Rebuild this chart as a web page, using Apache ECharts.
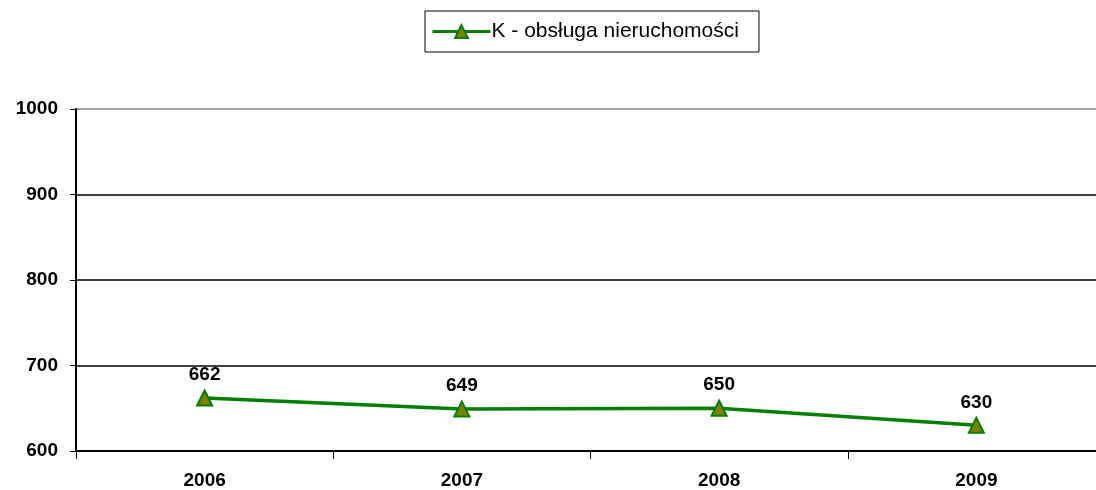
<!DOCTYPE html>
<html>
<head>
<meta charset="utf-8">
<script src="https://cdn.jsdelivr.net/npm/echarts@6/dist/echarts.min.js"></script>
<style>
  html, body { margin: 0; padding: 0; background: #fff; overflow: hidden; }
  /* wykres wychodzi poza prawą krawędź, jak w oryginale */
  #chart { width: 1110px; height: 490px; }
</style>
</head>
<body>
<div id="chart"></div>
<script>
// dane
const years = ['2006', '2007', '2008', '2009']
const values = [662, 649, 650, 630]
const seriesName = 'K - obsługa nieruchomości'

const chart = echarts.init(document.getElementById('chart'))

chart.setOption({
  animation: false,
  textStyle: { fontFamily: 'Liberation Sans, Arial, sans-serif' },
  legend: {
    top: 11,
    left: 425,
    data: [seriesName],
    backgroundColor: '#fff',
    borderColor: '#000',
    borderWidth: 1,
    borderRadius: 0,
    padding: [10, 20, 10, 6],
    itemWidth: 58,
    itemHeight: 16,
    itemGap: 0,
    lineStyle: { width: 3 },
    textStyle: { fontSize: 21, color: '#000', padding: [0, 0, 0, -4] },
  },
  grid: {
    left: 76,
    right: 5,
    top: 109,
    bottom: 38,
  },
  xAxis: {
    type: 'category',
    data: years,
    boundaryGap: true,
    axisLine: { lineStyle: { color: '#000', width: 2 } },
    axisTick: { show: true, length: 8, lineStyle: { color: '#000', width: 1 } },
    axisLabel: {
      color: '#000',
      fontSize: 19,
      fontWeight: 'bold',
      margin: 20,
    },
  },
  yAxis: {
    type: 'value',
    min: 600,
    max: 1000,
    interval: 100,
    axisLine: { show: true, lineStyle: { color: '#000', width: 2 } },
    axisTick: { show: true, length: 6, lineStyle: { color: '#000', width: 1 } },
    axisLabel: {
      color: '#000',
      fontSize: 19,
      fontWeight: 'bold',
      margin: 18,
      formatter: v => String(v),
    },
    splitLine: {
      show: true,
      lineStyle: { color: ['#000', '#000', '#000', '#000', '#808080'], width: 1.5 },
    },
  },
  series: [{
    name: seriesName,
    type: 'line',
    data: values,
    symbol: 'triangle',
    symbolSize: 15,
    itemStyle: { color: '#808000', borderColor: '#008000', borderWidth: 2 },
    lineStyle: { color: '#008000', width: 3.5 },
    label: {
      show: true,
      position: 'top',
      distance: 5,
      color: '#000',
      fontSize: 19,
      fontWeight: 'bold',
    },
  }],
})
</script>
</body>
</html>
